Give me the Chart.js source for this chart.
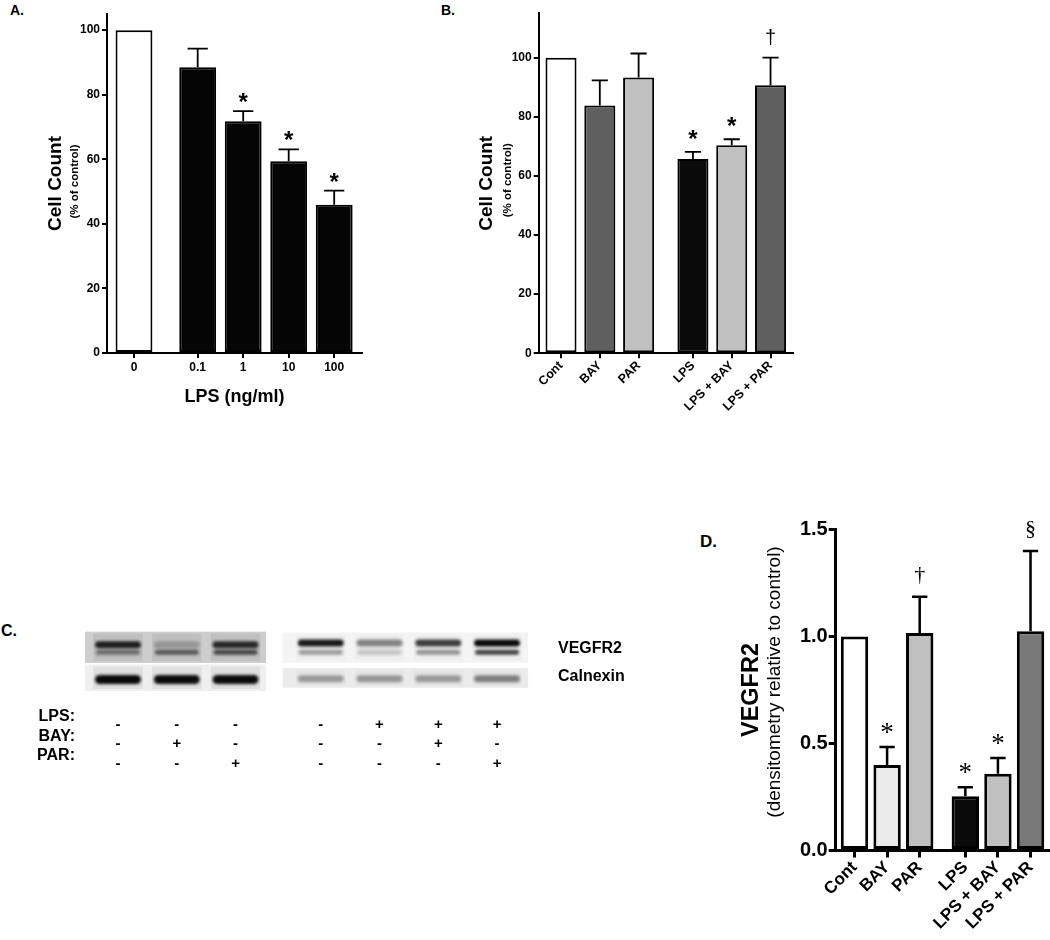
<!DOCTYPE html>
<html>
<head>
<meta charset="utf-8">
<script src="https://cdn.jsdelivr.net/npm/chart.js@4.4.1/dist/chart.umd.min.js"></script>
<style>
  html, body { margin: 0; padding: 0; background: #fff; }
  #page { position: relative; width: 1050px; height: 940px; overflow: hidden; font-family: 'Liberation Sans', Arial, sans-serif; }
  canvas { position: absolute; }
  .panel { position: absolute; font-weight: bold; line-height: 1; color: #000; }
</style>
</head>
<body>
<div id="page">
  <div class="panel" style="left:10px;top:3px;font-size:14px">A.</div>
  <div class="panel" style="left:441px;top:3px;font-size:14px">B.</div>
  <div class="panel" style="left:1px;top:623px;font-size:16px">C.</div>
  <div class="panel" style="left:700px;top:533px;font-size:17px">D.</div>
  <canvas id="chart-a" width="410" height="420" style="left:0;top:0"></canvas>
  <canvas id="chart-b" width="380" height="420" style="left:420px;top:0"></canvas>
  <canvas id="chart-c" width="640" height="180" style="left:0;top:600px"></canvas>
  <canvas id="chart-d" width="360" height="480" style="left:690px;top:460px"></canvas>
</div>
<script>
const SANS = "'Liberation Sans', Arial, Helvetica, sans-serif";
const SERIF = "'Liberation Serif', 'Times New Roman', serif";
Chart.defaults.font.family = SANS;
Chart.defaults.color = '#000';

// Panel A - cell count against LPS dose
const doseLabels = ['0', '0.1', '1', '10', '100'];
const doseCount = [100, 88.5, 71.8, 59.4, 45.9];
const doseSem = [0, 5.8, 3.1, 3.7, 4.4];
const doseMarks = ['', '', '*', '*', '*'];
const countTicks = [0, 20, 40, 60, 80, 100];

// Panel B - cell count by treatment
const treatLabels = ['Cont', 'BAY', 'PAR', 'LPS', 'LPS + BAY', 'LPS + PAR'];
const treatCount = [100, 83.8, 93.3, 65.7, 70.4, 90.7];
const treatSem = [0, 8.5, 8.1, 2.4, 2.0, 9.3];
const treatMarks = ['', '', '', '*', '*', '†'];

// Panel C - western blot lanes (band darkness 0..1)
const blotRows = ['VEGFR2', 'Calnexin'];
const rowNames = ['LPS:', 'BAY:', 'PAR:'];
const laneLPS = ['-', '-', '-', '-', '+', '+', '+'];
const laneBAY = ['-', '+', '-', '-', '-', '+', '-'];
const lanePAR = ['-', '-', '+', '-', '-', '-', '+'];
const vegfrUpper = [0.85, 0.22, 0.8, 0.9, 0.45, 0.75, 0.97];
const vegfrLower = [0.45, 0.55, 0.65, 0.35, 0.18, 0.38, 0.72];
const calnexinBand = [0.96, 0.95, 0.95, 0.33, 0.35, 0.33, 0.45];

// Panel D - VEGFR2 densitometry
const vegfrLevel = [1.0, 0.40, 1.016, 0.253, 0.359, 1.025];
const vegfrSem = [0, 0.084, 0.17, 0.043, 0.073, 0.375];
const vegfrMarks = ['', '*', '†', '*', '*', '§'];
const vegfrTicks = [0, 0.5, 1.0, 1.5];
const vegfrTickLabels = ['0.0', '0.5', '1.0', '1.5'];

// bar slots: one unit apart, with an extra gap before the second group
function slots(n, splitAt, gap) {
    return Array.from({ length: n }, (_, i) => i + (i >= splitAt ? gap : 0));
}

function errorBars(values, sem, marks, style) {
    return {
        id: 'errorBars',
        afterDatasetsDraw(chart) {
            const ctx = chart.ctx;
            const yScale = chart.scales.y;
            const bars = chart.getDatasetMeta(0).data;
            ctx.save();
            ctx.strokeStyle = '#000';
            ctx.fillStyle = '#000';
            ctx.lineWidth = style.lineWidth;
            ctx.textAlign = 'center';
            ctx.textBaseline = 'alphabetic';
            bars.forEach((bar, i) => {
                const top = yScale.getPixelForValue(values[i] + sem[i]);
                if (sem[i] > 0) {
                    const half = bar.width * style.cap / 2;
                    ctx.beginPath();
                    ctx.moveTo(bar.x, bar.y);
                    ctx.lineTo(bar.x, top);
                    ctx.moveTo(bar.x - half, top);
                    ctx.lineTo(bar.x + half, top);
                    ctx.stroke();
                }
                if (marks[i]) {
                    ctx.font = style.markFont[marks[i]];
                    const m = ctx.measureText(marks[i]);
                    ctx.fillText(marks[i], bar.x, top - style.markGap - m.actualBoundingBoxDescent);
                }
            });
            ctx.restore();
        }
    };
}

// second, smaller line of a y axis title
function sideNote(text, x, dy, font) {
    return {
        id: 'sideNote',
        afterDraw(chart) {
            const { ctx, chartArea } = chart;
            ctx.save();
            ctx.translate(x, (chartArea.top + chartArea.bottom) / 2 + dy);
            ctx.rotate(-Math.PI / 2);
            ctx.font = font;
            ctx.fillStyle = '#000';
            ctx.textAlign = 'center';
            ctx.textBaseline = 'middle';
            ctx.fillText(text, 0, 0);
            ctx.restore();
        }
    };
}

function barPanel(id, cfg) {
    const pos = slots(cfg.labels.length, cfg.splitAt, cfg.gap);
    return new Chart(document.getElementById(id), {
        type: 'bar',
        data: {
            datasets: [{
                data: cfg.values.map((v, i) => ({ x: pos[i], y: v })),
                backgroundColor: cfg.colors,
                borderColor: '#000',
                borderWidth: cfg.barBorder,
                borderSkipped: false,
                barPercentage: cfg.barFrac,
                categoryPercentage: 1
            }]
        },
        options: {
            responsive: false,
            animation: false,
            layout: { padding: cfg.padding },
            plugins: { legend: { display: false }, tooltip: { enabled: false } },
            scales: {
                x: {
                    type: 'linear',
                    offset: false,
                    min: cfg.xMin,
                    max: cfg.xMax,
                    afterBuildTicks: s => { s.ticks = pos.map(v => ({ value: v })); },
                    afterFit: s => { s.height = cfg.xHeight; },
                    ticks: {
                        callback: (v, i) => cfg.labels[i],
                        autoSkip: false,
                        minRotation: cfg.rot,
                        maxRotation: cfg.rot,
                        font: cfg.xFont,
                        color: '#000',
                        padding: cfg.xPad
                    },
                    grid: { offset: false, drawOnChartArea: false, tickLength: cfg.tick, lineWidth: cfg.axisW, color: '#000' },
                    border: { display: true, color: '#000', width: cfg.axisW },
                    title: cfg.xTitle || { display: false }
                },
                y: {
                    min: 0,
                    max: cfg.yMax,
                    afterBuildTicks: s => { s.ticks = cfg.yTicks.map(v => ({ value: v })); },
                    afterFit: s => { s.width = cfg.yWidth; },
                    ticks: {
                        callback: (v, i) => cfg.yLabels ? cfg.yLabels[i] : String(v),
                        font: cfg.yFont,
                        color: '#000',
                        padding: cfg.yPad
                    },
                    grid: { drawOnChartArea: false, tickLength: cfg.tick, lineWidth: cfg.axisW, color: '#000' },
                    border: { display: true, color: '#000', width: cfg.axisW },
                    title: cfg.yTitle
                }
            }
        },
        plugins: [
            errorBars(cfg.values, cfg.sem, cfg.marks, cfg.err),
            sideNote(cfg.note.text, cfg.note.x, cfg.note.dy, cfg.note.font)
        ]
    });
}

// Panel A
barPanel('chart-a', {
    labels: doseLabels, values: doseCount, sem: doseSem, marks: doseMarks,
    colors: ['#ffffff', '#050505', '#050505', '#050505', '#050505'],
    splitAt: 1, gap: 0.4, xMin: -0.593, xMax: 5.011, barFrac: 0.81, barBorder: 2,
    padding: { left: 10, right: 48, top: 14, bottom: 0 }, yWidth: 97, xHeight: 67,
    yMax: 105, yTicks: countTicks, yLabels: null,
    rot: 0, tick: 5, axisW: 2, xPad: 2, yPad: 2,
    xFont: { size: 12, weight: 'bold' }, yFont: { size: 12, weight: 'bold' },
    xTitle: { display: true, text: 'LPS (ng/ml)', color: '#000', font: { size: 18, weight: 'bold' }, padding: { top: 0, bottom: 12 } },
    yTitle: { display: true, text: 'Cell Count', color: '#000', font: { size: 19, weight: 'bold' }, padding: { top: 34, bottom: 0 } },
    note: { text: '(% of control)', x: 75, dy: -2, font: 'bold 11.5px ' + SANS },
    err: { lineWidth: 1.8, cap: 0.55, markGap: 9, markFont: { '*': 'bold 24px ' + SANS } }
});

// Panel B
barPanel('chart-b', {
    labels: treatLabels, values: treatCount, sem: treatSem, marks: treatMarks,
    colors: ['#ffffff', '#5f5f5f', '#c0c0c0', '#0a0a0a', '#c0c0c0', '#5f5f5f'],
    splitAt: 3, gap: 0.4, xMin: -0.575, xMax: 5.979, barFrac: 0.8, barBorder: 2,
    padding: { left: 10, right: 7, top: 13.3, bottom: 0 }, yWidth: 108.7, xHeight: 66.7,
    yMax: 115, yTicks: countTicks, yLabels: null,
    rot: 45, tick: 5, axisW: 2, xPad: 0, yPad: 2,
    xFont: { size: 12.5, weight: 'bold' }, yFont: { size: 12, weight: 'bold' },
    yTitle: { display: true, text: 'Cell Count', color: '#000', font: { size: 19, weight: 'bold' }, padding: { top: 45.6, bottom: 0 } },
    note: { text: '(% of control)', x: 88, dy: -3, font: 'bold 11.5px ' + SANS },
    err: { lineWidth: 1.8, cap: 0.52, markGap: 13, markFont: { '*': 'bold 24px ' + SANS, '†': '20px ' + SANS } }
});

// Panel D
barPanel('chart-d', {
    labels: treatLabels, values: vegfrLevel, sem: vegfrSem, marks: vegfrMarks,
    colors: ['#ffffff', '#ebebeb', '#c0c0c0', '#0a0a0a', '#c0c0c0', '#787878'],
    splitAt: 3, gap: 0.4, xMin: -0.577, xMax: 5.936, barFrac: 0.84, barBorder: 3,
    padding: { left: 10, right: 2, top: 69.5, bottom: 0 }, yWidth: 135.7, xHeight: 89.5,
    yMax: 1.5, yTicks: vegfrTicks, yLabels: vegfrTickLabels,
    rot: 45, tick: 7, axisW: 3, xPad: 0, yPad: 1,
    xFont: { size: 17, weight: 'bold' }, yFont: { size: 20, weight: 'bold' },
    yTitle: { display: true, text: 'VEGFR2', color: '#000', font: { size: 23.5, weight: 'bold' }, padding: { top: 37.6, bottom: 0 } },
    note: { text: '(densitometry relative to control)', x: 85, dy: -8, font: '19px ' + SANS },
    err: { lineWidth: 2.5, cap: 0.56, markGap: 13, markFont: { '*': '27px ' + SERIF, '†': '22px ' + SERIF, '§': '22px ' + SERIF } }
});

// Panel C - blot drawn on the lane scale
const lanePos = slots(laneLPS.length, 3, 0.45);

const blotBands = {
    id: 'blotBands',
    beforeDatasetsDraw(chart) {
        const { ctx, scales: { x, y } } = chart;
        const unit = x.getPixelForValue(1) - x.getPixelForValue(0);
        const groups = [
            { lanes: [0, 1, 2], edge: [0.56, 0.52], vegfr: [0.472, 1.0, '#cdcdcd'], calx: [0, 0.444, '#efefef'], upAt: 0.778, calAt: 0.194, calH: 9, smear: 0.06 },
            { lanes: [3, 4, 5, 6], edge: [0.65, 0.53], vegfr: [0.476, 0.986, '#f4f4f4'], calx: [0.056, 0.389, '#ebebeb'], upAt: 0.806, calAt: 0.208, calH: 7, smear: 0.02 }
        ];
        const band = (cx, cy, w, h, a) => {
            ctx.fillStyle = 'rgba(0,0,0,' + a + ')';
            ctx.beginPath();
            ctx.roundRect(cx - w / 2, cy - h / 2, w, h, h / 2);
            ctx.fill();
        };
        ctx.save();
        groups.forEach(g => {
            const x0 = x.getPixelForValue(lanePos[g.lanes[0]] - g.edge[0]);
            const x1 = x.getPixelForValue(lanePos[g.lanes[g.lanes.length - 1]] + g.edge[1]);
            [g.vegfr, g.calx].forEach(strip => {
                const yt = y.getPixelForValue(strip[1]);
                const yb = y.getPixelForValue(strip[0]);
                ctx.fillStyle = strip[2];
                ctx.fillRect(x0, yt, x1 - x0, yb - yt);
                g.lanes.forEach(i => {
                    const cx = x.getPixelForValue(lanePos[i]);
                    ctx.fillStyle = 'rgba(0,0,0,' + g.smear + ')';
                    ctx.fillRect(cx - unit * 0.42, yt + 2, unit * 0.84, yb - yt - 4);
                });
            });
            ctx.filter = 'blur(1.4px)';
            g.lanes.forEach(i => {
                const cx = x.getPixelForValue(lanePos[i]);
                const w = unit * 0.78;
                band(cx, y.getPixelForValue(g.upAt), w, 7, vegfrUpper[i]);
                band(cx, y.getPixelForValue(0.653), w * 0.96, 5, vegfrLower[i]);
                band(cx, y.getPixelForValue(g.calAt), w, g.calH, calnexinBand[i]);
            });
            ctx.filter = 'none';
        });
        ctx.restore();
    },
    afterDraw(chart) {
        const { ctx, scales: { x } } = chart;
        ctx.save();
        ctx.font = 'bold 16px ' + SANS;
        ctx.fillStyle = '#000';
        ctx.textAlign = 'right';
        ctx.textBaseline = 'middle';
        rowNames.forEach((name, k) => {
            ctx.fillText(name, 75, x.top + 16 + 9.75 + k * 19.5);
        });
        ctx.restore();
    }
};

new Chart(document.getElementById('chart-c'), {
    type: 'scatter',
    data: { datasets: [{ data: [] }] },
    options: {
        responsive: false,
        animation: false,
        layout: { padding: { left: 85, right: 0, top: 19, bottom: 0 } },
        plugins: { legend: { display: false }, tooltip: { enabled: false } },
        scales: {
            x: {
                type: 'linear',
                min: -0.5616,
                max: 6.977,
                afterBuildTicks: s => { s.ticks = lanePos.map(v => ({ value: v })); },
                afterFit: s => { s.height = 89; },
                ticks: {
                    callback: (v, i) => [laneLPS[i], laneBAY[i], lanePAR[i]],
                    autoSkip: false,
                    maxRotation: 0,
                    font: { size: 15, weight: 'bold', lineHeight: 1.3 },
                    color: '#000',
                    padding: 16
                },
                grid: { display: false },
                border: { display: false }
            },
            y: {
                position: 'right',
                min: 0,
                max: 1,
                afterBuildTicks: s => { s.ticks = [0.708, 0.236].map(v => ({ value: v })); },
                afterFit: s => { s.width = 112; },
                ticks: {
                    callback: (v, i) => blotRows[i],
                    font: { size: 16, weight: 'bold' },
                    color: '#000',
                    padding: 22
                },
                grid: { display: false },
                border: { display: false }
            }
        }
    },
    plugins: [blotBands]
});
</script>
</body>
</html>
